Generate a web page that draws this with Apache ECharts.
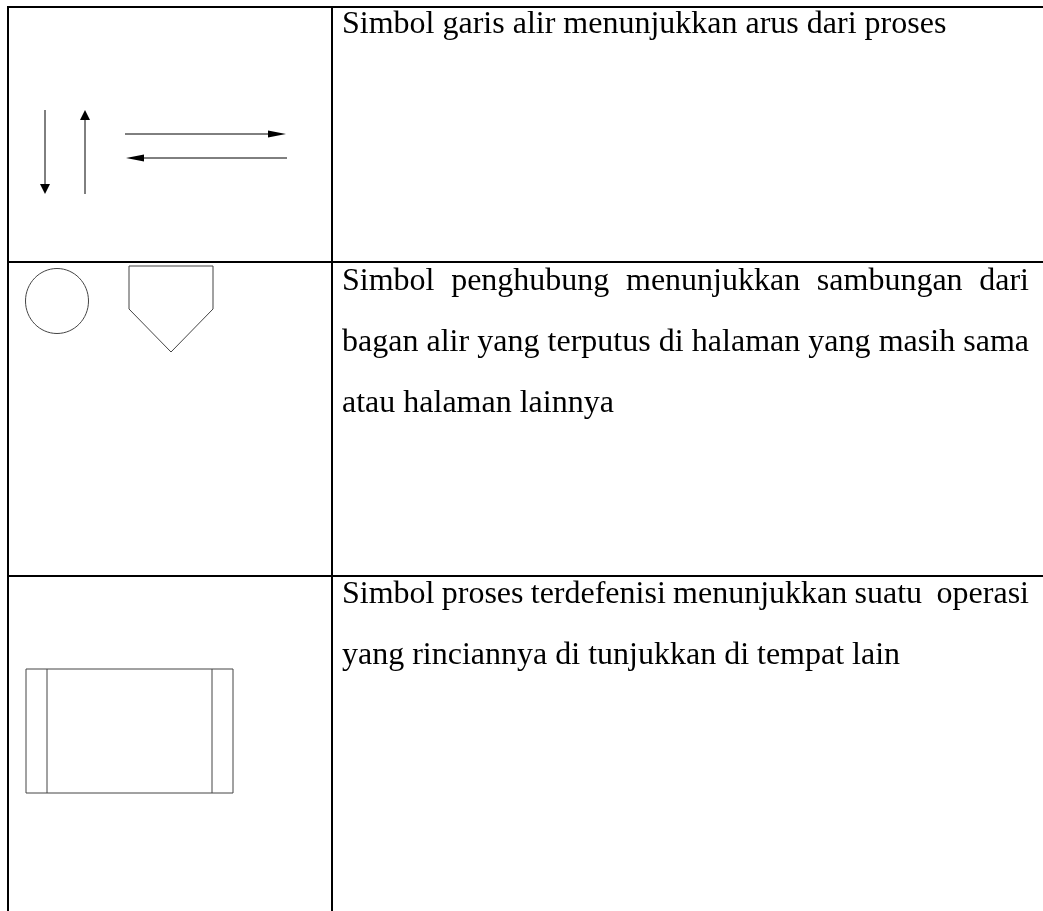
<!DOCTYPE html>
<html>
<head>
<meta charset="utf-8">
<script src="https://cdn.jsdelivr.net/npm/echarts@6/dist/echarts.min.js"></script>
<style>html,body{margin:0;padding:0;background:#fff}#c{width:1043px;height:911px}</style>
</head>
<body>
<div id="c"></div>
<script>
// ---- content ----
const rowTexts = [
  ["Simbol garis alir menunjukkan arus dari proses"],
  ["Simbol penghubung menunjukkan sambungan dari",
   "bagan alir yang terputus di halaman yang masih sama",
   "atau halaman lainnya"],
  ["Simbol proses terdefenisi menunjukkan suatu  operasi",
   "yang rinciannya di tunjukkan di tempat lain"]
];
const rowSymbols = ["flowLines", "connectors", "predefinedProcess"];

// ---- layout ----
const W = 1043, H = 911;
const tableLeft = 8, tableTop = 7, colX = 332;
const rowTops = [7, 262, 576];
const textLeft = 342, textRight = 1029;
const firstBaseline = [35, 292, 605];
const lineGap = 61;
const fontSize = 32;
const FONT = fontSize + "px 'Liberation Serif', 'Times New Roman', serif";

const ctx = document.createElement('canvas').getContext('2d');
ctx.font = FONT;
const mw = s => ctx.measureText(s).width;
const midOffset = 0.3375 * fontSize;

const g = [];
const line = (x1, y1, x2, y2, w, c) => g.push({type:'line', shape:{x1,y1,x2,y2}, style:{stroke:c||'#000', lineWidth:w||1}, silent:true});

// table grid
line(tableLeft - 1, tableTop, W, tableTop, 2);
line(tableLeft, tableTop, tableLeft, H, 2);
line(colX, tableTop, colX, H, 2);
rowTops.slice(1).forEach(y => line(tableLeft - 1, y, W, y, 2));

// text (justified paragraphs, last line left-aligned)
function addWord(txt, x, baseline) {
  g.push({type:'text', x: x, y: baseline - midOffset, silent:true,
    style:{text: txt, font: FONT, fill:'#000', align:'left', verticalAlign:'middle', lineHeight: fontSize}});
}
rowTexts.forEach((lines, r) => {
  lines.forEach((ln, i) => {
    const base = firstBaseline[r] + i * lineGap;
    const last = i === lines.length - 1;
    if (last) { addWord(ln, textLeft, base); return; }
    const tokens = ln.split(' ');
    const nSpaces = tokens.length - 1;
    const natural = mw(ln);
    const extra = (textRight - textLeft - natural) / nSpaces;
    const sp = mw(' ');
    let x = textLeft;
    tokens.forEach(t => { if (t) addWord(t, x, base); x += mw(t) + sp + extra; });
  });
});

// symbols
const stroke = '#000', stroke2 = '#444';
function arrowHead(tx, ty, dir, len, half) {
  let pts;
  if (dir === 'down') pts = [[tx, ty], [tx - half, ty - len], [tx + half, ty - len]];
  if (dir === 'up') pts = [[tx, ty], [tx - half, ty + len], [tx + half, ty + len]];
  if (dir === 'right') pts = [[tx, ty], [tx - len, ty - half], [tx - len, ty + half]];
  if (dir === 'left') pts = [[tx, ty], [tx + len, ty - half], [tx + len, ty + half]];
  g.push({type:'polygon', shape:{points: pts}, style:{fill: stroke}, silent:true});
}
rowSymbols.forEach((s, r) => {
  if (s === 'flowLines') {
    line(45, 110, 45, 186, 1, stroke); arrowHead(45, 194, 'down', 10, 5);
    line(85, 194, 85, 118, 1, stroke); arrowHead(85, 110, 'up', 10, 5);
    line(125, 134, 272, 134, 1, stroke); arrowHead(286, 134, 'right', 18, 3.5);
    line(140, 158, 287, 158, 1, stroke); arrowHead(126, 158, 'left', 18, 3.5);
  } else if (s === 'connectors') {
    g.push({type:'ellipse', shape:{cx:57, cy:301, rx:31.5, ry:32.5}, style:{fill:'none', stroke: stroke2, lineWidth:1}, silent:true});
    g.push({type:'polygon', shape:{points:[[129,266],[213,266],[213,309],[171,352],[129,309]]}, style:{fill:'none', stroke: stroke2, lineWidth:1}, silent:true});
  } else if (s === 'predefinedProcess') {
    g.push({type:'rect', shape:{x:26, y:669, width:207, height:124}, style:{fill:'none', stroke: stroke2, lineWidth:1}, silent:true});
    line(47, 669, 47, 793, 1, stroke2);
    line(212, 669, 212, 793, 1, stroke2);
  }
});

const chart = echarts.init(document.getElementById('c'), null, {renderer:'canvas'});
chart.setOption({backgroundColor:'#fff', animation:false, graphic:{elements:g}});
</script>
</body>
</html>
